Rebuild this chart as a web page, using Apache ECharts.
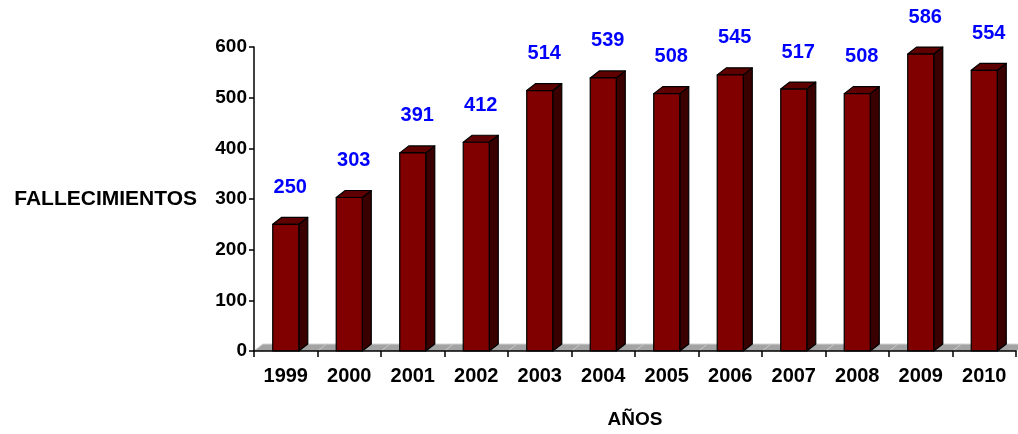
<!DOCTYPE html>
<html>
<head>
<meta charset="utf-8">
<script src="https://cdn.jsdelivr.net/npm/echarts@6/dist/echarts.min.js"></script>
<style>
  html, body { margin: 0; padding: 0; background: #ffffff; }
  #chart { width: 1018px; height: 434px; }
</style>
</head>
<body>
<div id="chart"></div>
<script>
// Deaths per year
const years = ['1999', '2000', '2001', '2002', '2003', '2004', '2005', '2006', '2007', '2008', '2009', '2010'];
const deaths = [250, 303, 391, 412, 514, 539, 508, 545, 517, 508, 586, 554];
const yMin = 0;
const yMax = 600;
const yStep = 100;

// 3D depth offset for bars and floor
const DX = 9;
const DY = -7;
const FONT = '"Liberation Sans", Arial, sans-serif';

const chart = echarts.init(document.getElementById('chart'), null, { renderer: 'canvas' });

function renderFloor(params, api) {
  const c = api.coord([api.value(0), 0]);
  const w = api.size([1, 0])[0];
  const x0 = c[0] - w / 2;
  const x1 = c[0] + w / 2 + 0.5;
  const y = c[1];
  return {
    type: 'group',
    children: [
      {
        type: 'polygon',
        shape: { points: [[x0, y], [x0 + DX, y + DY], [x1 + DX, y + DY], [x1, y]] },
        style: { fill: '#a3a3a3', stroke: null }
      },
      {
        type: 'line',
        shape: { x1: x0 + DX, y1: y + DY, x2: x1 + DX, y2: y + DY },
        style: { stroke: '#d4d4d4', lineWidth: 1 }
      },
      {
        type: 'line',
        shape: { x1: x0, y1: y, x2: x0 + DX, y2: y + DY },
        style: { stroke: '#c8c8c8', lineWidth: 1 }
      }
    ]
  };
}

function renderBar(params, api) {
  const idx = api.value(0);
  const val = api.value(1);
  const top = api.coord([idx, val]);
  const base = api.coord([idx, 0]);
  const band = api.size([1, 0])[0];
  const half = band * 0.205;
  const x0 = top[0] - half;
  const x1 = top[0] + half;
  const yT = top[1];
  const yB = base[1];
  const edge = { stroke: '#000000', lineWidth: 1.2, lineJoin: 'round' };
  return {
    type: 'group',
    children: [
      {
        type: 'polygon',
        shape: { points: [[x1, yB], [x1 + DX, yB + DY], [x1 + DX, yT + DY], [x1, yT]] },
        style: Object.assign({ fill: '#3a0000' }, edge)
      },
      {
        type: 'polygon',
        shape: { points: [[x0, yT], [x0 + DX, yT + DY], [x1 + DX, yT + DY], [x1, yT]] },
        style: Object.assign({ fill: '#5e0000' }, edge)
      },
      {
        type: 'rect',
        shape: { x: x0, y: yT, width: x1 - x0, height: yB - yT },
        style: Object.assign({ fill: '#800000' }, edge)
      },
      {
        type: 'text',
        x: top[0] + DX / 2,
        y: yT - 37,
        style: {
          text: String(val),
          fill: '#0000ff',
          font: 'bold 20px ' + FONT,
          align: 'center',
          verticalAlign: 'middle'
        }
      }
    ]
  };
}

chart.setOption({
  backgroundColor: '#ffffff',
  animation: false,
  grid: { left: 254, right: 2, top: 47, bottom: 81, containLabel: false },
  xAxis: {
    type: 'category',
    data: years,
    z: 5,
    boundaryGap: true,
    axisLine: { show: true, lineStyle: { color: '#000000', width: 1.5 } },
    axisTick: { show: true, length: 6, alignWithLabel: false, lineStyle: { color: '#000000', width: 1.5 } },
    axisLabel: { color: '#000000', fontFamily: FONT, fontWeight: 'bold', fontSize: 20, margin: 15, interval: 0 },
    splitLine: { show: false },
    name: 'AÑOS',
    nameLocation: 'middle',
    nameGap: 59,
    nameTextStyle: { color: '#000000', fontFamily: FONT, fontWeight: 'bold', fontSize: 19 }
  },
  yAxis: {
    type: 'value',
    min: yMin,
    max: yMax,
    interval: yStep,
    z: 5,
    axisLine: { show: true, lineStyle: { color: '#000000', width: 1.5 } },
    axisTick: { show: true, length: 5, lineStyle: { color: '#000000', width: 1.5 } },
    axisLabel: { color: '#000000', fontFamily: FONT, fontWeight: 'bold', fontSize: 19, margin: 7 },
    splitLine: { show: false }
  },
  graphic: [
    {
      type: 'text',
      x: 197,
      y: 199,
      style: {
        text: 'FALLECIMIENTOS',
        fill: '#000000',
        font: 'bold 21px ' + FONT,
        align: 'right',
        verticalAlign: 'middle'
      }
    }
  ],
  series: [
    {
      type: 'custom',
      name: 'floor',
      z: 1,
      renderItem: renderFloor,
      data: years.map((y, i) => [i, 0]),
      silent: true
    },
    {
      type: 'custom',
      name: 'FALLECIMIENTOS',
      z: 2,
      renderItem: renderBar,
      encode: { x: 0, y: 1 },
      data: deaths.map((v, i) => [i, v])
    }
  ]
});
</script>
</body>
</html>
